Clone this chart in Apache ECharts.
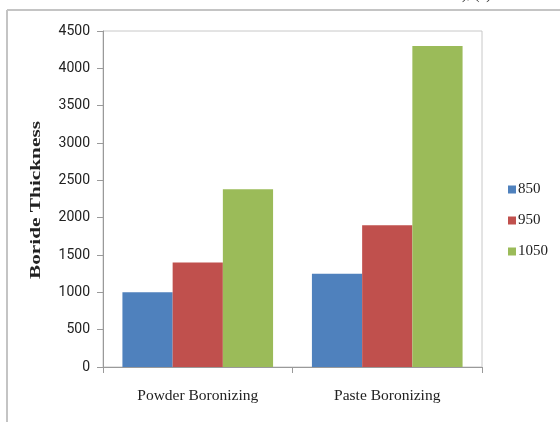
<!DOCTYPE html>
<html>
<head>
<meta charset="utf-8">
<script src="https://cdn.jsdelivr.net/npm/echarts@6/dist/echarts.min.js"></script>
<style>
  html, body { margin: 0; padding: 0; background: #fff; }
  #chart { width: 560px; height: 422px; }
</style>
</head>
<body>
<div id="chart"></div>
<script>
// Boride layer thickness by method and temperature
const categories = ['Powder Boronizing', 'Paste Boronizing'];
const temperatures = ['850', '950', '1050'];
const values850 = [1000, 1250];
const values950 = [1400, 1900];
const values1050 = [2380, 4300];
const yTicks = { min: 0, max: 4500, interval: 500 };
const yTitle = 'Boride Thickness';

const colors = ['#4F81BD', '#C0504D', '#9BBB59'];
const seriesValues = [values850, values950, values1050];

const chart = echarts.init(document.getElementById('chart'), null, { renderer: 'canvas' });

chart.setOption({
  animation: false,
  backgroundColor: '#ffffff',
  graphic: [
    // outer frame of the figure
    { type: 'line', shape: { x1: 7, y1: 10, x2: 560, y2: 10 }, style: { stroke: '#c4c4c4', lineWidth: 2 } },
    { type: 'line', shape: { x1: 7, y1: 10, x2: 7, y2: 422 }, style: { stroke: '#c4c4c4', lineWidth: 2 } },
    // panel label clipped at the top edge
    { type: 'text', left: 462, top: -12, style: { text: '), (a)', font: '15px "Liberation Serif"', fill: '#333' } },
    // vertical axis title, stretched along its length
    {
      type: 'text',
      x: 36, y: 200,
      rotation: Math.PI / 2,
      scaleX: 1.42, scaleY: 1,
      style: {
        text: yTitle,
        font: 'bold 15px "Liberation Serif"',
        fill: '#222',
        align: 'center',
        verticalAlign: 'middle'
      }
    }
  ],
  grid: { left: 103, right: 78, top: 31, bottom: 55, show: true, borderColor: '#c8c8c8', borderWidth: 1 },
  legend: {
    orient: 'vertical',
    left: 503,
    top: 177,
    itemWidth: 8,
    itemHeight: 8,
    itemGap: 16,
    icon: 'rect',
    data: temperatures,
    textStyle: { fontFamily: 'Liberation Serif', fontSize: 15, color: '#222', padding: [0, 0, 0, -3] }
  },
  xAxis: {
    type: 'category',
    data: categories,
    axisLine: { lineStyle: { color: '#9a9a9a' } },
    axisTick: { show: true, length: 6, alignWithLabel: false, lineStyle: { color: '#9a9a9a' } },
    axisLabel: { fontFamily: 'Liberation Serif', fontSize: 15.5, color: '#222', margin: 21 }
  },
  yAxis: {
    type: 'value',
    min: yTicks.min,
    max: yTicks.max,
    interval: yTicks.interval,
    axisLine: { show: true, lineStyle: { color: '#9a9a9a' } },
    axisTick: { show: true, inside: false, length: 6, lineStyle: { color: '#9a9a9a' } },
    splitLine: { show: false },
    axisLabel: { fontFamily: 'Roboto', fontSize: 14, color: '#222', margin: 13, formatter: (v) => String(v) }
  },
  series: temperatures.map((t, i) => ({
    name: t,
    type: 'bar',
    data: seriesValues[i],
    barGap: '0%',
    barCategoryGap: '20.5%',
    itemStyle: { color: colors[i] }
  }))
});
</script>
</body>
</html>
